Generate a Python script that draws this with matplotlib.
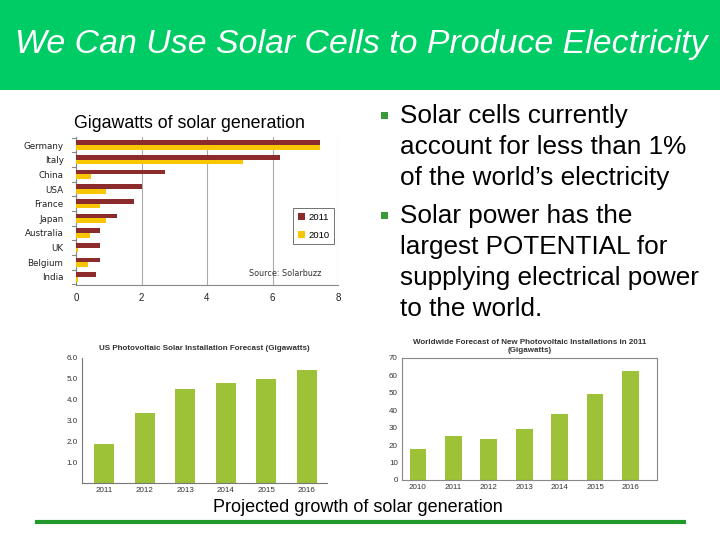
import matplotlib
matplotlib.use('Agg')
import matplotlib.pyplot as plt
from matplotlib.patches import Rectangle
import numpy as np

plt.rcParams['font.family'] = ['Liberation Sans', 'DejaVu Sans']

# --- data ---
countries = ['Germany', 'Italy', 'China', 'USA', 'France', 'Japan',
             'Australia', 'UK', 'Belgium', 'India']
gw_2011 = [7.44, 6.22, 2.73, 2.0, 1.77, 1.24, 0.73, 0.73, 0.73, 0.61]
gw_2010 = [7.44, 5.1, 0.46, 0.93, 0.73, 0.93, 0.43, 0.05, 0.36, 0.05]

us_years = ['2011', '2012', '2013', '2014', '2015', '2016']
us_gw = [1.87, 3.35, 4.5, 4.79, 4.98, 5.42]

ww_years = ['2010', '2011', '2012', '2013', '2014', '2015', '2016']
ww_gw = [18.0, 25.3, 23.6, 29.4, 38.0, 49.5, 62.8]

bullets = [
    ['Solar cells currently', 'account for less than 1%', 'of the world\u2019s electricity'],
    ['Solar power has the', 'largest POTENTIAL for', 'supplying electrical power', 'to the world.'],
]

W, H = 720, 540
def box(x0, y0, x1, y1):
    return [x0 / W, 1 - y1 / H, (x1 - x0) / W, (y1 - y0) / H]

def fx(x):
    return x / W

def fy(y):
    return 1 - y / H

fig = plt.figure(figsize=(7.2, 5.4), dpi=100)
fig.patch.set_facecolor('white')

# header band
fig.patches.append(Rectangle((0, fy(90)), 1, 90 / H, transform=fig.transFigure,
                             facecolor='#00CC66', edgecolor='none', zorder=0))
fig.text(fx(361), fy(44), 'We Can Use Solar Cells to Produce Electricity',
         color='white', fontsize=24.4, style='italic', ha='center', va='center')

# --- chart 1: horizontal bars by country ---
ax1 = fig.add_axes(box(76, 137, 338, 285))
y = np.arange(len(countries))
ax1.barh(y - 0.16, gw_2011, height=0.32, color='#8B2B2B', label='2011', zorder=3)
ax1.barh(y + 0.16, gw_2010, height=0.32, color='#F7C600', label='2010', zorder=3)
ax1.set_ylim(9.55, -0.55)
ax1.set_xlim(0, 8)
ax1.set_xticks([0, 2, 4, 6, 8])
ax1.set_yticks(y)
ax1.set_yticklabels(countries, fontsize=6.3, family='DejaVu Sans', color='#222222')
ax1.tick_params(axis='y', length=0, pad=9)
ax1.tick_params(axis='x', length=0, labelsize=7, pad=6, labelcolor='#222222')
ax1.grid(axis='x', color='#AAAAAA', linewidth=0.8, zorder=0)
for s in ['top', 'right']:
    ax1.spines[s].set_visible(False)
ax1.spines['left'].set_color('#888888')
ax1.spines['bottom'].set_color('#888888')
for b in np.arange(-0.5, 10, 1):
    ax1.plot([-0.12, 0], [b, b], color='#888888', lw=0.8, clip_on=False)
leg = ax1.legend(loc='upper left', bbox_to_anchor=(0.81, 0.55), fontsize=6.8,
                 frameon=True, fancybox=False, edgecolor='#333333',
                 handlelength=0.8, handleheight=0.8, borderpad=0.5,
                 labelspacing=0.9, handletextpad=0.3)
leg.get_frame().set_linewidth(0.6)
ax1.text(0.66, 0.08, 'Source: Solarbuzz', transform=ax1.transAxes,
         fontsize=5.8, family='DejaVu Sans', color='#333333', va='center')

fig.text(fx(74), fy(123), 'Gigawatts of solar generation', fontsize=12.8,
         va='center', ha='left')

# --- bullets ---
line_y = [[116, 147, 178], [216, 247, 278, 309]]
for lines, ys in zip(bullets, line_y):
    fig.patches.append(Rectangle((fx(381), fy(ys[0] + 3)), 7 / W, 7 / H,
                                 transform=fig.transFigure,
                                 facecolor='#3A9A3A', edgecolor='none'))
    for txt, yy in zip(lines, ys):
        fig.text(fx(400), fy(yy), txt, fontsize=18.8, va='center', ha='left')

# --- chart 2: US forecast ---
ax2 = fig.add_axes(box(82, 358, 327, 483))
ax2.bar(np.arange(len(us_years)), us_gw, width=0.5, color='#9DC137')
ax2.set_xlim(-0.55, 5.5)
ax2.set_ylim(0, 6)
ax2.set_yticks([1, 2, 3, 4, 5, 6])
ax2.set_yticklabels(['1.0', '2.0', '3.0', '4.0', '5.0', '6.0'])
ax2.set_xticks(np.arange(len(us_years)))
ax2.set_xticklabels(us_years)
ax2.tick_params(length=0, labelsize=5.8, labelcolor='#333333', pad=3)
for s in ['top', 'right']:
    ax2.spines[s].set_visible(False)
ax2.spines['left'].set_color('#777777')
ax2.spines['bottom'].set_color('#777777')
ax2.set_title('US Photovoltaic Solar Installation Forecast (Gigawatts)',
              fontsize=5.8, fontweight='bold', color='#333333', pad=6)

# --- chart 3: worldwide forecast ---
ax3 = fig.add_axes(box(402, 358, 657, 480))
ax3.bar(np.arange(len(ww_years)), ww_gw, width=0.47, color='#9DC137')
ax3.set_xlim(-0.45, 6.75)
ax3.set_ylim(0, 70)
ax3.set_yticks(np.arange(0, 71, 10))
ax3.set_xticks(np.arange(len(ww_years)))
ax3.set_xticklabels(ww_years)
ax3.tick_params(length=0, labelsize=5.8, labelcolor='#333333', pad=3)
for s in ax3.spines.values():
    s.set_color('#888888')
ax3.set_title('Worldwide Forecast of New Photovoltaic Installations in 2011\n(Gigawatts)',
              fontsize=5.8, fontweight='bold', color='#333333', pad=4,
              linespacing=1.3)

# caption and bottom rule
fig.text(fx(358), fy(508), 'Projected growth of solar generation', fontsize=13,
         ha='center', va='center')
fig.add_artist(plt.Line2D([fx(37), fx(684)], [fy(522), fy(522)],
                          color='#22992A', linewidth=3))

fig.savefig('out.png', dpi=100)
